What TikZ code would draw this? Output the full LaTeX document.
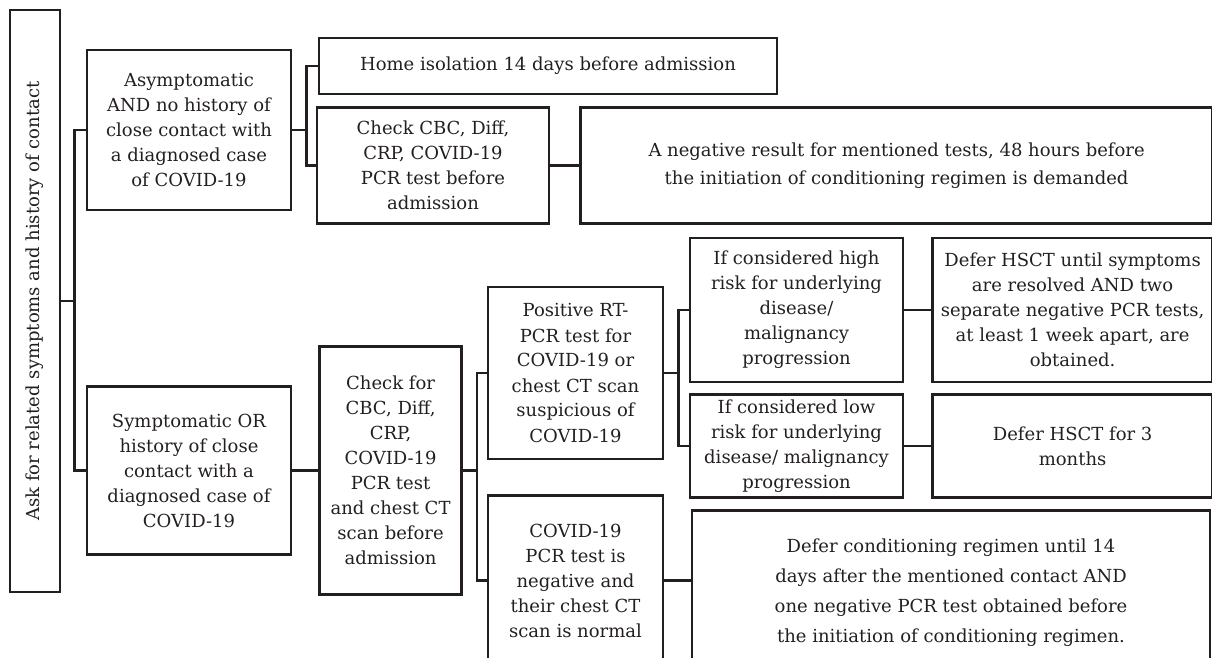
\documentclass[tikz,border=0pt]{standalone}
\usepackage{fontspec}
\usepackage{graphicx}
\setmainfont{DejaVu Serif}
\usetikzlibrary{positioning}
\definecolor{ink}{HTML}{231F20}

\begin{document}
\begin{tikzpicture}[x=1pt,y=-1pt]
        \tikzstyle{box} = [rectangle, draw=ink, line width=2.6pt, text=ink, align=center, inner sep=2pt, font=\fontsize{18}{25}\selectfont]
        \tikzstyle{line} = [draw=ink, line width=2.6pt]
        \useasboundingbox (0,0) rectangle (1212,658);
        \clip (0,0) rectangle (1212,658);

        \node (root) [box, minimum width=50pt, minimum height=582pt] at (35,301) {\rotatebox{90}{Ask for related symptoms and history of contact}};
        \node (asym) [box, minimum width=204pt, minimum height=160pt] at (189,130) {Asymptomatic\\AND no history of\\close contact with\\a diagnosed case\\of COVID-19};
        \node (symp) [box, minimum width=204pt, minimum height=168pt, below=174pt of asym] {Symptomatic OR\\history of close\\contact with a\\diagnosed case of\\COVID-19};
        \node (home) [box, minimum width=458pt, minimum height=56pt] at (548,66) {Home isolation 14 days before admission};
        \node (check1) [box, minimum width=232pt, minimum height=116pt, below=11pt of home.south west, anchor=north west, xshift=-2pt] {Check CBC, Diff,\\CRP, COVID-19\\PCR test before\\admission};
        \node (negres) [box, minimum width=632pt, minimum height=116pt, right=29pt of check1, font=\fontsize{18}{28}\selectfont] {A negative result for mentioned tests, 48 hours before\\the initiation of conditioning regimen is demanded};
        \node (check2) [box, minimum width=142pt, minimum height=248pt, right=26pt of symp] {Check for\\CBC, Diff,\\CRP,\\COVID-19\\PCR test\\and chest CT\\scan before\\admission};
        \node (posit) [box, minimum width=175pt, minimum height=172pt] at (575.5,373) {Positive RT-\\PCR test for\\COVID-19 or\\chest CT scan\\suspicious of\\COVID-19};
        \node (negat) [box, minimum width=175pt, minimum height=170pt, below=34pt of posit] {COVID-19\\PCR test is\\negative and\\their chest CT\\scan is normal};
        \node (high) [box, minimum width=213pt, minimum height=144pt] at (796.5,310) {If considered high\\risk for underlying\\disease/\\malignancy\\progression};
        \node (low) [box, minimum width=213pt, minimum height=103pt, below=10pt of high] {If considered low\\risk for underlying\\disease/ malignancy\\progression};
        \node (defer1) [box, minimum width=280pt, minimum height=144pt, right=27pt of high] {Defer HSCT until symptoms\\are resolved AND two\\separate negative PCR tests,\\at least 1 week apart, are\\obtained.};
        \node (defer2) [box, minimum width=280pt, minimum height=103pt, right=27pt of low] {Defer HSCT for 3\\months};
        \node (deferc) [box, minimum width=518pt, minimum height=164pt, below=10pt of low.south west, anchor=north west, xshift=2pt, font=\fontsize{18}{30}\selectfont] {Defer conditioning regimen until 14\\days after the mentioned contact AND\\one negative PCR test obtained before\\the initiation of conditioning regimen.};

        \draw [line] (root.east) -- ++(13,0) coordinate (f0);
        \draw [line] (asym.west) -| (f0) |- (symp.west);
        \draw [line] (asym.east) -- ++(14,0) coordinate (f1);
        \draw [line] (home.west) -| (f1) |- (check1.west);
        \draw [line] (check1) -- (negres);
        \draw [line] (symp) -- (check2);
        \draw [line] (check2.east) -- ++(14,0) coordinate (f2);
        \draw [line] (posit.west) -| (f2) |- (negat.west);
        \draw [line] (posit.east) -- ++(14,0) coordinate (f3);
        \draw [line] (high.west) -| (f3) |- (low.west);
        \draw [line] (high) -- (defer1);
        \draw [line] (low) -- (defer2);
        \draw [line] (negat.east) -- (negat.east -| deferc.west);
\end{tikzpicture}
\end{document}
